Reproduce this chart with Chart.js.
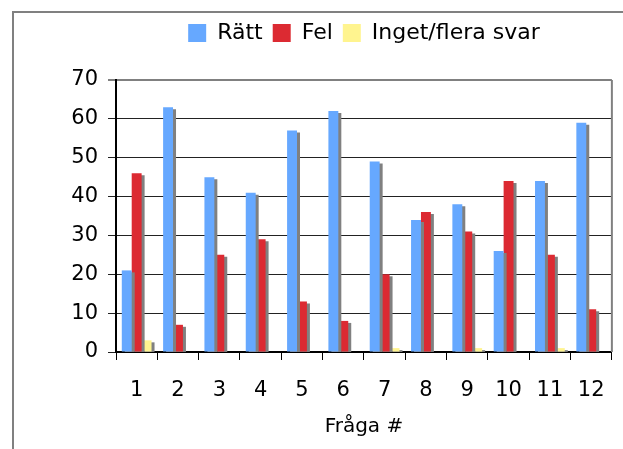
<!DOCTYPE html>
<html>
<head>
<meta charset="utf-8">
<script src="https://cdn.jsdelivr.net/npm/chart.js@4"></script>
<style>
    body { margin: 0; overflow: hidden; background: #fff; }
    #frame { position: absolute; left: 12px; top: 11px; width: 700px; height: 500px; border: 2px solid #808080; }
    #wrap { position: absolute; left: 0; top: 0; width: 623px; height: 449px; }
</style>
</head>
<body>
<div id="frame"></div>
<div id="wrap"><canvas id="barChart" width="623" height="449"></canvas></div>
<script>
const questions = ['1', '2', '3', '4', '5', '6', '7', '8', '9', '10', '11', '12'];
const correct = [21, 63, 45, 41, 57, 62, 49, 34, 38, 26, 44, 59];
const wrong = [46, 7, 25, 29, 13, 8, 20, 36, 31, 44, 25, 11];
const noAnswer = [3, 0, 0, 0, 0, 0, 1, 0, 1, 0, 1, 0];
const seriesNames = ['Rätt', 'Fel', 'Inget/flera svar'];

const fontFamily = '"DejaVu Sans", Verdana, sans-serif';

// gray drop shadow behind each bar, like the old Excel chart
const barShadow = {
    id: 'barShadow',
    beforeDatasetsDraw(chart) {
        const ctx = chart.ctx;
        ctx.save();
        ctx.shadowColor = '#808080';
        ctx.shadowOffsetX = 3;
        ctx.shadowOffsetY = 2;
        ctx.shadowBlur = 0;
    },
    afterDatasetsDraw(chart) {
        chart.ctx.restore();
    }
};

// right edge of the plot area
const plotBorder = {
    id: 'plotBorder',
    beforeDatasetsDraw(chart) {
        const area = chart.chartArea;
        const ctx = chart.ctx;
        ctx.save();
        ctx.strokeStyle = '#808080';
        ctx.lineWidth = 2;
        ctx.beginPath();
        ctx.moveTo(area.right, area.top);
        ctx.lineTo(area.right, area.bottom);
        ctx.stroke();
        ctx.restore();
    }
};

// more room under the legend, and center it over the plot area
const legendSpace = {
    id: 'legendSpace',
    beforeInit(chart) {
        const legend = chart.legend;
        const origFit = legend.fit;
        legend.fit = function () {
            origFit.call(this);
            this.height += 26;
        };
    },
    afterLayout(chart) {
        chart.legend.left = chart.chartArea.left;
        chart.legend.right = chart.chartArea.right;
    }
};

const ctx = document.getElementById('barChart').getContext('2d');
new Chart(ctx, {
    type: 'bar',
    data: {
        labels: questions,
        datasets: [
            { label: seriesNames[0], data: correct, backgroundColor: '#66a8ff' },
            { label: seriesNames[1], data: wrong, backgroundColor: '#dc2a32' },
            { label: seriesNames[2], data: noAnswer, backgroundColor: '#fff48f' }
        ]
    },
    options: {
        responsive: false,
        animation: false,
        categoryPercentage: 0.72,
        barPercentage: 1.0,
        datasets: {
            bar: { clip: 0 }
        },
        layout: {
            padding: { left: 0, right: 10, top: 12, bottom: 0 }
        },
        plugins: {
            tooltip: { enabled: false },
            legend: {
                position: 'top',
                labels: {
                    boxWidth: 18,
                    boxHeight: 18,
                    padding: 10,
                    color: '#000',
                    font: { family: fontFamily, size: 22 }
                }
            }
        },
        scales: {
            x: {
                afterFit(scale) { scale.height = 97; },
                grid: {
                    drawOnChartArea: false,
                    drawTicks: true,
                    tickLength: 8,
                    color: '#000'
                },
                border: { color: '#000', width: 2 },
                ticks: {
                    color: '#000',
                    padding: 18,
                    maxRotation: 0,
                    font: { family: fontFamily, size: 21 }
                },
                title: {
                    display: true,
                    text: 'Fråga #',
                    color: '#000',
                    padding: { top: 0, bottom: 10 },
                    font: { family: fontFamily, size: 20 }
                }
            },
            y: {
                min: 0,
                max: 70,
                afterFit(scale) { scale.width = 116; },
                grid: {
                    color: (c) => c.tick && c.tick.value === 70 ? '#808080' : '#222',
                    lineWidth: (c) => c.tick && c.tick.value === 70 ? 2 : 1,
                    tickLength: 8
                },
                border: { color: '#000', width: 2 },
                ticks: {
                    stepSize: 10,
                    color: '#000',
                    padding: 10,
                    font: { family: fontFamily, size: 21 }
                }
            }
        }
    },
    plugins: [plotBorder, barShadow, legendSpace]
});
</script>
</body>
</html>
